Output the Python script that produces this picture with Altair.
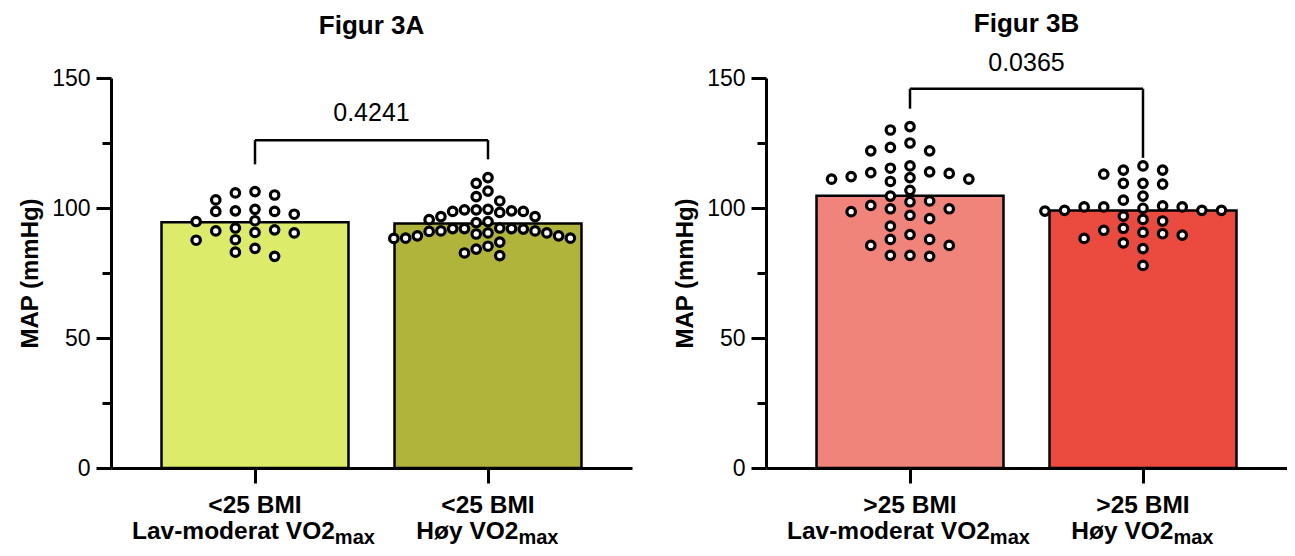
import altair as alt
import pandas as pd

FONT = "Liberation Sans"

# ---------------- data ----------------
a_line1 = ["<25 BMI", "<25 BMI"]
a_line2 = ["Lav-moderat VO2", "Høy VO2"]
b_line1 = [">25 BMI", ">25 BMI"]
b_line2 = ["Lav-moderat VO2", "Høy VO2"]
sub_txt = "max"

a1 = [103.1, 98.7, 94.8, 90.6, 105.0, 98.7, 92.3, 87.8, 81.4, 99.5, 95.1,
      90.4, 84.5, 106.3, 97.6, 91.6, 87.6, 83.0, 105.8, 98.9, 91.2]
a2 = [91.9, 89.3, 89.3, 94.8, 95.5, 91.2, 91.2, 98.7, 104.4, 99.3, 88.4,
      82.7, 98.3, 91.0, 86.9, 111.7, 106.5, 99.5, 92.1, 88.3, 84.2, 109.5,
      98.9, 94.4, 85.3, 102.7, 96.7, 92.3, 88.4, 81.7, 98.7, 92.1, 99.3,
      90.0, 90.4, 96.7, 90.4, 92.1]
b1 = [112.1, 113.3, 123.3, 116.2, 111.7, 102.7, 98.6, 89.8, 85.6, 81.4,
      130.0, 122.0, 111.1, 99.7, 93.0, 87.9, 131.3, 125.0, 115.3, 110.2,
      104.6, 99.7, 95.9, 85.6, 81.8, 122.0, 111.1, 106.8, 102.4, 97.2, 87.9,
      81.8, 113.9, 101.0, 113.6]
b2 = [99.1, 100.4, 96.9, 92.2, 116.2, 109.5, 100.8, 95.0, 89.6, 113.0, 99.1,
      90.6, 86.6, 77.9, 114.6, 109.2, 104.6, 99.9, 88.3, 84.4, 114.6, 109.5,
      103.0, 98.8, 90.1, 100.4, 95.6, 91.4, 100.4, 99.1]

a_colors = ["#DDEB6B", "#B1B43A"]
b_colors = ["#F0837A", "#EA4B3E"]

a_p = "0.4241"
b_p = "0.0365"
a_bracket = [126.1, 116.8, 118.7]   # level, left end, right end
b_bracket = [145.9, 138.2, 119.3]

# ---------------- layout constants ----------------
W, H = 521, 390
XMIN, XMAX = 1.5 - 1.0966, 1.5 + 1.0966
PX_PER_UNIT = W / (XMAX - XMIN)
BAR_W = 187
DOT_D = 4.3          # collision distance in data units
LBL = 24.5
SUB = 20

# Arial/Liberation bold advance widths (per 1000 em)
BOLD_W = {" ": 278, "-": 333, "<": 584, ">": 584, "2": 556, "5": 556, "A": 722,
          "B": 722, "H": 722, "I": 278, "L": 611, "M": 833, "O": 778, "V": 667,
          "a": 556, "d": 611, "e": 556, "m": 889, "o": 611, "r": 389, "t": 333,
          "v": 556, "x": 556, "y": 556, "ø": 611}


def text_w(s, size):
    return sum(BOLD_W.get(c, 556) for c in s) * size / 1000.0


def swarm(vals):
    best = None
    for half in (False, True):
        cols = [None] * len(vals)
        occ = {}
        order = sorted(range(len(vals)), key=lambda i: -vals[i])
        for i in order:
            k = 0
            done = False
            while not done:
                if half:
                    cands = [-(k + 0.5), k + 0.5]
                else:
                    cands = [0] if k == 0 else [-k, k]
                for c in cands:
                    if all(abs(vals[i] - v) >= DOT_D for v in occ.get(c, [])):
                        occ.setdefault(c, []).append(vals[i])
                        cols[i] = c
                        done = True
                        break
                k += 1
        span = max(cols) - min(cols)
        if best is None or span < best[0]:
            best = (span, cols)
    span, cols = best
    spacing = 20.0 if span == 0 else min(20.0, 180.0 / span)
    return [c * spacing / PX_PER_UNIT for c in cols]


def panel(series, line1, line2, colors, ptxt, bracket, title, title_y, p_dy):
    rows = []
    for gi, vals in enumerate(series):
        offs = swarm(vals)
        for v, o in zip(vals, offs):
            rows.append({"grp": gi, "col": colors[gi], "pos": gi + 1,
                         "value": v, "xp": gi + 1 + o})
    df = pd.DataFrame(rows)

    lab = []
    for gi in range(2):
        w1 = text_w(line2[gi], LBL)
        w2 = text_w(sub_txt, SUB)
        dx = (w1 - w2) / 2.0
        lab.append({"pos": gi + 1, "l1": line1[gi], "l2": line2[gi],
                    "sub": sub_txt, "xs": gi + 1 + dx / PX_PER_UNIT})
    ldf = pd.DataFrame(lab)

    bdf = pd.DataFrame([{"x1": 1, "x2": 2, "y": bracket[0], "yl": bracket[1],
                         "yr": bracket[2], "xm": 1.5, "p": ptxt, "t": title}])

    xscale = alt.Scale(domain=[XMIN, XMAX], nice=False, zero=False)
    yscale = alt.Scale(domain=[0, 150], nice=False)

    bars = alt.Chart(df).transform_aggregate(
        mean_value="mean(value)", groupby=["grp", "pos", "col"]
    ).mark_bar(width=BAR_W, stroke="black", strokeWidth=2.5).encode(
        x=alt.X("pos:Q", scale=xscale,
                axis=alt.Axis(values=[1, 2], labels=False, title=None, grid=False,
                              tickSize=15, tickWidth=3, domainWidth=3,
                              domainColor="black", tickColor="black")),
        y=alt.Y("mean_value:Q", scale=yscale,
                axis=alt.Axis(values=[0, 25, 50, 75, 100, 125, 150], grid=False,
                              title="MAP (mmHg)",
                              labelExpr="datum.value % 50 == 0 ? datum.label : ''",
                              tickSize={"condition": {"test": "datum.value % 50 != 0",
                                                      "value": 9}, "value": 15},
                              tickWidth=3, domainWidth=3, labelFontSize=23,
                              labelPadding=6, titleFontSize=24, titleFontWeight="bold",
                              titlePadding=9, domainColor="black", tickColor="black",
                              labelColor="black", titleColor="black",
                              labelFont=FONT, titleFont=FONT)),
        y2=alt.datum(0),
        color=alt.Color("col:N", scale=None, legend=None),
    )

    dots = alt.Chart(df).mark_circle(size=72, color="white", stroke="black",
                                     strokeWidth=3.2, opacity=1).encode(
        x=alt.X("xp:Q", scale=xscale),
        y=alt.Y("value:Q", scale=yscale),
    )

    hline = alt.Chart(bdf).mark_rule(strokeWidth=2.5, color="black").encode(
        x="x1:Q", x2="x2:Q", y="y:Q")
    lleg = alt.Chart(bdf).mark_rule(strokeWidth=2.5, color="black").encode(
        x="x1:Q", y="y:Q", y2="yl:Q")
    rleg = alt.Chart(bdf).mark_rule(strokeWidth=2.5, color="black").encode(
        x="x2:Q", y="y:Q", y2="yr:Q")
    ptext = alt.Chart(bdf).mark_text(font=FONT, fontSize=25, dy=p_dy,
                                     baseline="alphabetic", color="black").encode(
        x="xm:Q", y="y:Q", text="p:N")
    ttl = alt.Chart(bdf).mark_text(font=FONT, fontSize=26, fontWeight="bold",
                                   baseline="alphabetic", color="black").encode(
        x="xm:Q", y=alt.value(title_y), text="t:N")

    l1 = alt.Chart(ldf).mark_text(font=FONT, fontSize=LBL, fontWeight="bold",
                                  baseline="alphabetic", color="black").encode(
        x="pos:Q", y=alt.value(H + 45), text="l1:N")
    l2 = alt.Chart(ldf).mark_text(font=FONT, fontSize=LBL, fontWeight="bold",
                                  align="right", baseline="alphabetic",
                                  color="black").encode(
        x="xs:Q", y=alt.value(H + 71), text="l2:N")
    l3 = alt.Chart(ldf).mark_text(font=FONT, fontSize=SUB, fontWeight="bold",
                                  align="left", baseline="alphabetic",
                                  color="black").encode(
        x="xs:Q", y=alt.value(H + 76), text="sub:N")

    return alt.layer(bars, dots, hline, lleg, rleg, ptext, ttl, l1, l2, l3).properties(
        width=W, height=H)


pa = panel([a1, a2], a_line1, a_line2, a_colors, a_p, a_bracket, "Figur 3A", -44, -19)
pb = panel([b1, b2], b_line1, b_line2, b_colors, b_p, b_bracket, "Figur 3B", -46, -18)

chart = alt.hconcat(pa, pb, spacing=41).properties(
    padding={"left": 10, "top": 3, "right": 0, "bottom": 0}
).configure_view(stroke=None)

chart.save("out.html", embed_options={"renderer": "svg", "actions": False})
